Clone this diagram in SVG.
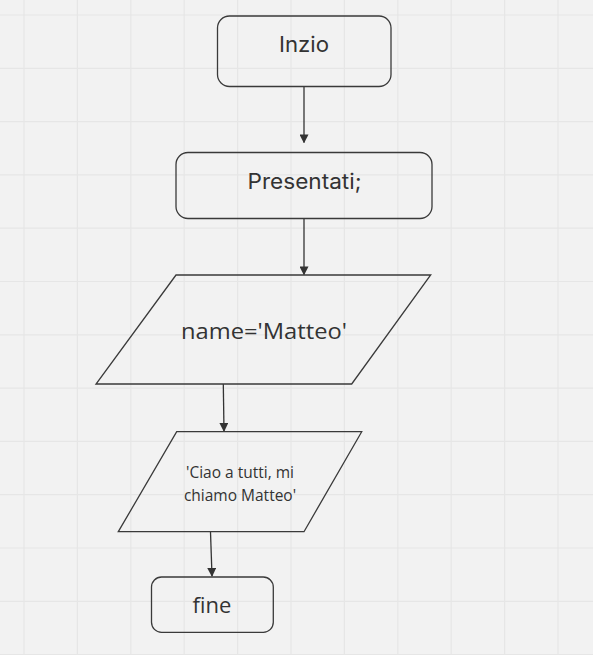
<svg xmlns="http://www.w3.org/2000/svg" width="593" height="655" viewBox="0 0 593 655">
<defs>
<style>
.bg{fill:#f2f2f2}
.grid line{stroke:#e6e6e6;stroke-width:1.2}
.shape{fill:none;stroke:#3a3a3a;stroke-width:1.3}
.edge{stroke:#333;stroke-width:1.3;fill:none;marker-end:url(#arr)}
.t{font-family:"Open Sans","Noto Sans",sans-serif;fill:#333;text-anchor:middle}
.g{font-family:"Inter","Lato",sans-serif;fill:#333;text-anchor:middle}
</style>
<marker id="arr" viewBox="0 0 10 10" refX="9" refY="5" markerWidth="9" markerHeight="9" markerUnits="userSpaceOnUse" orient="auto">
<path d="M0,0 L10,5 L0,10 z" fill="#333"/>
</marker>
</defs>
<rect class="bg" x="0" y="0" width="593" height="655"/>
<g class="grid">
<line x1="24" y1="0" x2="24" y2="655"/>
<line x1="77.4" y1="0" x2="77.4" y2="655"/>
<line x1="130.8" y1="0" x2="130.8" y2="655"/>
<line x1="184.2" y1="0" x2="184.2" y2="655"/>
<line x1="237.6" y1="0" x2="237.6" y2="655"/>
<line x1="291" y1="0" x2="291" y2="655"/>
<line x1="344.4" y1="0" x2="344.4" y2="655"/>
<line x1="397.8" y1="0" x2="397.8" y2="655"/>
<line x1="451.2" y1="0" x2="451.2" y2="655"/>
<line x1="504.6" y1="0" x2="504.6" y2="655"/>
<line x1="558" y1="0" x2="558" y2="655"/>
<line x1="0" y1="15" x2="593" y2="15"/>
<line x1="0" y1="68.3" x2="593" y2="68.3"/>
<line x1="0" y1="121.6" x2="593" y2="121.6"/>
<line x1="0" y1="174.9" x2="593" y2="174.9"/>
<line x1="0" y1="228.2" x2="593" y2="228.2"/>
<line x1="0" y1="281.5" x2="593" y2="281.5"/>
<line x1="0" y1="334.8" x2="593" y2="334.8"/>
<line x1="0" y1="388.1" x2="593" y2="388.1"/>
<line x1="0" y1="441.4" x2="593" y2="441.4"/>
<line x1="0" y1="494.7" x2="593" y2="494.7"/>
<line x1="0" y1="548" x2="593" y2="548"/>
<line x1="0" y1="601.3" x2="593" y2="601.3"/>
<line x1="0" y1="654.6" x2="593" y2="654.6"/>
</g>
<g id="connectors">
<line class="edge" x1="304" y1="87" x2="304" y2="142.5"/>
<line class="edge" x1="304" y1="218.5" x2="304" y2="274.5"/>
<line class="edge" x1="223.3" y1="384" x2="224" y2="431"/>
<line class="edge" x1="210.5" y1="532" x2="212" y2="576"/>
</g>
<g id="inzio">
<rect class="shape" x="217.5" y="16" width="173.5" height="70.5" rx="12"/>
<text class="g" x="304" y="52.3" font-size="21" textLength="50" lengthAdjust="spacingAndGlyphs">Inzio</text>
</g>
<g id="presentati">
<rect class="shape" x="176" y="152.5" width="256" height="66" rx="12"/>
<text class="g" x="304.5" y="189" font-size="21" textLength="114" lengthAdjust="spacingAndGlyphs">Presentati;</text>
</g>
<g id="name">
<polygon class="shape" points="176,275 430.7,275 351.7,384 96,384"/>
<text class="t" x="264" y="339" font-size="22" textLength="166" lengthAdjust="spacingAndGlyphs">name='Matteo'</text>
</g>
<g id="ciao">
<polygon class="shape" points="176.7,431.7 361.7,431.7 304,531.7 118.3,531.7"/>
<text class="t" x="240" y="478.3" font-size="15.5">'Ciao a tutti, mi</text>
<text class="t" x="240" y="500.7" font-size="15.5">chiamo Matteo'</text>
</g>
<g id="fine">
<rect class="shape" x="151.5" y="577" width="121.8" height="55.3" rx="10"/>
<text class="t" x="212" y="613.3" font-size="22">fine</text>
</g>
</svg>
